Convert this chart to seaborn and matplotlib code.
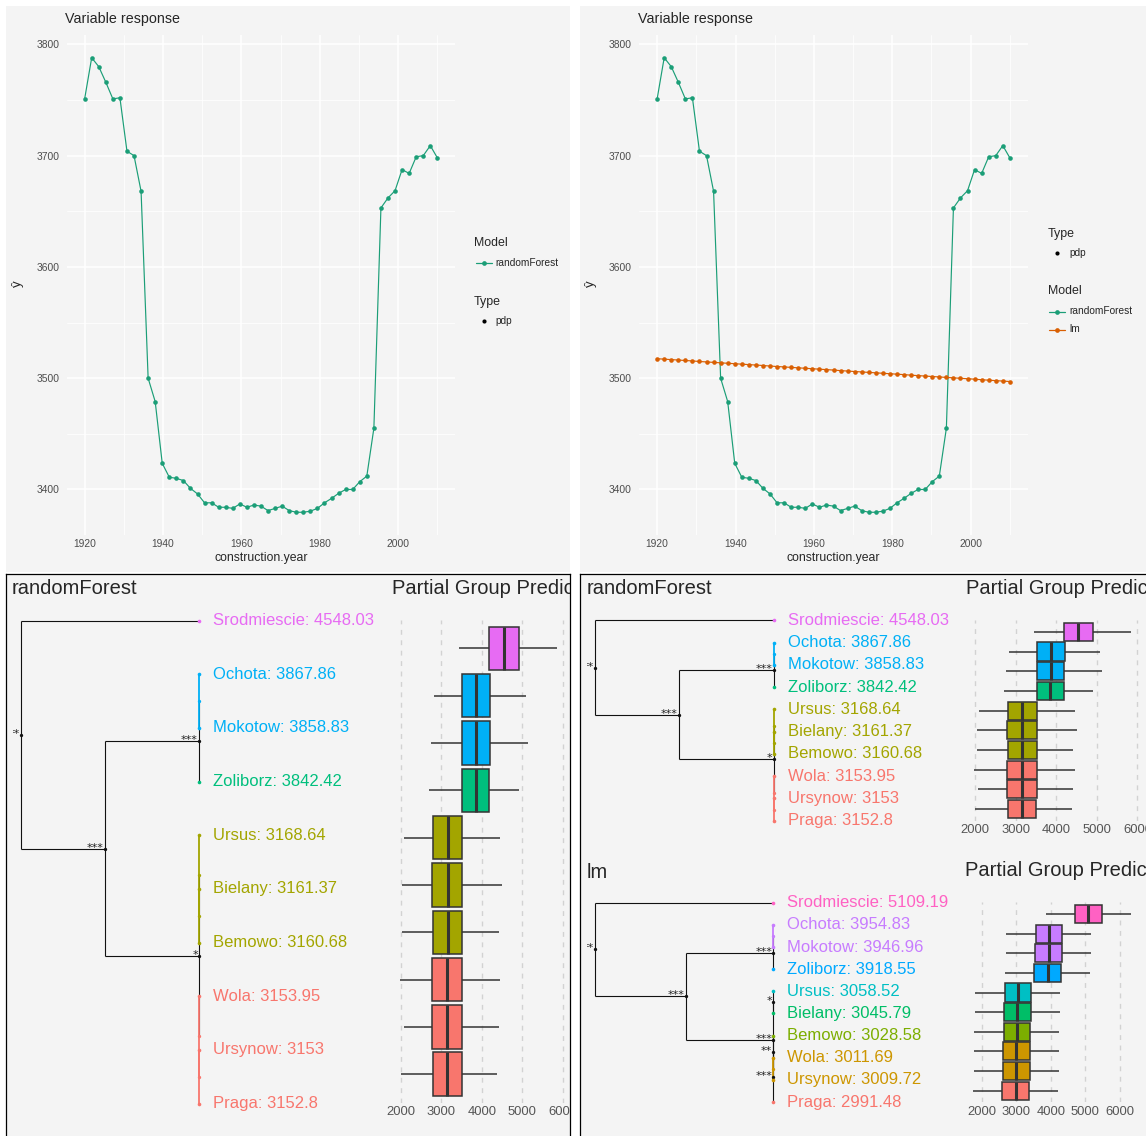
import numpy as np
import pandas as pd
import matplotlib
matplotlib.use("Agg")
import matplotlib.pyplot as plt
import matplotlib.transforms as mtransforms
from matplotlib.lines import Line2D
import seaborn as sns

# ---------------- data ----------------
years = [1920.0, 1921.8, 1923.6, 1925.4, 1927.2, 1929.0, 1930.8, 1932.6, 1934.4, 1936.2,
         1938.0, 1939.8, 1941.6, 1943.4, 1945.2, 1947.0, 1948.8, 1950.6, 1952.4, 1954.2,
         1956.0, 1957.8, 1959.6, 1961.4, 1963.2, 1965.0, 1966.8, 1968.6, 1970.4, 1972.2,
         1974.0, 1975.8, 1977.6, 1979.4, 1981.2, 1983.0, 1984.8, 1986.6, 1988.4, 1990.2,
         1992.0, 1993.8, 1995.6, 1997.4, 1999.2, 2001.0, 2002.8, 2004.6, 2006.4, 2008.2,
         2010.0]
rf_pdp = [3751, 3788, 3780, 3766, 3751, 3752, 3704, 3700, 3668, 3500,
          3479, 3423.5, 3411, 3410, 3408, 3401, 3396, 3388, 3388, 3384,
          3384, 3383, 3387, 3384, 3386, 3385, 3381, 3383, 3385, 3381,
          3379.5, 3379.5, 3380.5, 3383, 3388, 3392, 3396.5, 3400, 3400, 3407,
          3412, 3455, 3653, 3662, 3668.5, 3687.5, 3684, 3699, 3700, 3709,
          3698]
lm_pdp = [3517.5, 3517.1, 3516.7, 3516.3, 3515.9, 3515.5, 3515.0, 3514.6, 3514.2, 3513.8,
          3513.4, 3513.0, 3512.6, 3512.2, 3511.8, 3511.4, 3510.9, 3510.5, 3510.1, 3509.7,
          3509.3, 3508.9, 3508.5, 3508.1, 3507.7, 3507.3, 3506.8, 3506.4, 3506.0, 3505.6,
          3505.2, 3504.8, 3504.4, 3504.0, 3503.6, 3503.2, 3502.7, 3502.3, 3501.9, 3501.5,
          3501.1, 3500.7, 3500.3, 3499.9, 3499.5, 3499.1, 3498.6, 3498.2, 3497.8, 3497.4,
          3497.0]
year_breaks = [1920, 1940, 1960, 1980, 2000]
year_minor = [1930, 1950, 1970, 1990, 2010]
yhat_breaks = [3400, 3500, 3600, 3700, 3800]
yhat_minor = [3450, 3550, 3650, 3750]

districts = ['Srodmiescie', 'Ochota', 'Mokotow', 'Zoliborz', 'Ursus',
             'Bielany', 'Bemowo', 'Wola', 'Ursynow', 'Praga']
rf_means = [4548.03, 3867.86, 3858.83, 3842.42, 3168.64, 3161.37, 3160.68, 3153.95, 3153, 3152.8]
lm_means = [5109.19, 3954.83, 3946.96, 3918.55, 3058.52, 3045.79, 3028.58, 3011.69, 3009.72, 2991.48]
rf_colors = ['#E76BF3', '#00B0F6', '#00B0F6', '#00BF7D', '#A3A500',
             '#A3A500', '#A3A500', '#F8766D', '#F8766D', '#F8766D']
lm_colors = ['#FF61C3', '#C77CFF', '#C77CFF', '#00A9FF', '#00BFC4',
             '#00BE67', '#7CAE00', '#CD9600', '#CD9600', '#F8766D']
# five-number summaries (whisker low, Q1, median, Q3, whisker high)
rf_box = [[3451, 4180, 4541, 4918, 5852],
          [2836, 3516, 3869, 4213, 5090],
          [2762, 3525, 3869, 4197, 5139],
          [2713, 3516, 3852, 4189, 4918],
          [2098, 2803, 3164, 3525, 4451],
          [2049, 2787, 3164, 3525, 4500],
          [2049, 2803, 3164, 3525, 4426],
          [1984, 2787, 3148, 3525, 4451],
          [2074, 2787, 3148, 3525, 4426],
          [2000, 2803, 3148, 3508, 4377]]
lm_box = [[3874, 4696, 5082, 5488, 6319],
          [2705, 3565, 3952, 4338, 5159],
          [2705, 3546, 3952, 4338, 5159],
          [2676, 3507, 3913, 4300, 5130],
          [1807, 2667, 3053, 3440, 4271],
          [1807, 2647, 3034, 3420, 4271],
          [1778, 2638, 3024, 3401, 4242],
          [1778, 2609, 3005, 3401, 4242],
          [1778, 2609, 3005, 3401, 4242],
          [1749, 2589, 2986, 3372, 4203]]
box_breaks = [2000, 3000, 4000, 5000, 6000]
# merge tree: (child a, child b, merge height [0 = root step, 1 = leaf level], significance)
rf_merges = [(1, 2, 1.0, ''), (10, 3, 1.0, '***'), (5, 6, 1.0, ''), (4, 12, 1.0, ''),
             (8, 9, 1.0, ''), (7, 14, 1.0, ''), (13, 15, 1.0, '*'),
             (11, 16, 0.47, '***'), (0, 17, 0.0, '**')]
lm_merges = [(1, 2, 1.0, ''), (10, 3, 1.0, '***'), (4, 5, 1.0, '*'), (7, 8, 1.0, ''),
             (6, 13, 1.0, '**'), (14, 9, 1.0, '***'), (12, 15, 1.0, '***'),
             (11, 16, 0.509, '***'), (0, 17, 0.0, '**')]
model_palette = {'randomForest': '#1B9E77', 'lm': '#D95F02'}

# ---------------- figure setup ----------------
sns.set_style("white")
plt.rcParams['font.family'] = ['Liberation Sans', 'DejaVu Sans']

W, H = 1146, 1136
fig = plt.figure(figsize=(W / 100, H / 100), dpi=100)
fig.patch.set_facecolor('white')
PX = mtransforms.Affine2D().scale(1 / W, -1 / H).translate(0, 1) + fig.transFigure
BG = '#F4F4F4'
TICK_COL = '#4D4D4D'


def px_axes(x0, y0, x1, y1):
    return fig.add_axes([x0 / W, 1 - y1 / H, (x1 - x0) / W, (y1 - y0) / H])


def expand(lo, hi, f=0.05):
    r = hi - lo
    return lo - f * r, hi + f * r


def bare(ax):
    ax.set_xticks([])
    ax.set_yticks([])


# ---------------- top panels ----------------
for (x0, x1) in [(6, 570), (580, 1146)]:
    bg = px_axes(x0, 6, x1, 572)
    bg.set_facecolor(BG)
    bare(bg)
    for s in bg.spines.values():
        s.set_visible(False)

df_rf = pd.DataFrame({'year': years, 'yhat': rf_pdp, 'Model': 'randomForest'})
df_lm = pd.DataFrame({'year': years, 'yhat': lm_pdp, 'Model': 'lm'})


def top_panel(x_left, df, order):
    ax = px_axes(x_left, 35, x_left + 388, 535)
    ax.set_facecolor('none')
    sns.lineplot(data=df, x='year', y='yhat', hue='Model', hue_order=order,
                 palette=model_palette, marker='o', markersize=3.3, markeredgewidth=0,
                 linewidth=0.85, errorbar=None, legend=False, ax=ax)
    ax.set_xlim(*expand(df.year.min(), df.year.max()))
    ax.set_ylim(*expand(df.yhat.min(), df.yhat.max()))
    ax.set_xticks(year_breaks)
    ax.set_xticks(year_minor, minor=True)
    ax.set_yticks(yhat_breaks)
    ax.set_yticks(yhat_minor, minor=True)
    ax.grid(which='major', color='white', lw=1.1)
    ax.grid(which='minor', color='white', lw=0.55)
    ax.set_axisbelow(True)
    ax.tick_params(which='both', length=0, labelsize=7.4, labelcolor=TICK_COL)
    ax.tick_params(axis='x', pad=3.2)
    ax.tick_params(axis='y', pad=5.5)
    for s in ax.spines.values():
        s.set_visible(False)
    ax.set_xlabel('')
    ax.set_ylabel('')
    fig.text(x_left - 2, 19, 'Variable response', transform=PX, fontsize=10.3,
             va='center', ha='left')
    fig.text(x_left + 194, 558.5, 'construction.year', transform=PX, fontsize=8.8,
             va='center', ha='center')
    fig.text(x_left - 49, 284, 'ŷ', transform=PX, fontsize=9.5, rotation=90,
             va='center', ha='center')
    return ax


top_panel(67, df_rf, ['randomForest'])
top_panel(639.5, pd.concat([df_rf, df_lm], ignore_index=True), ['randomForest', 'lm'])


def legend_title(x, y, s):
    fig.text(x, y, s, transform=PX, fontsize=8.9, va='center', ha='left')


def legend_entry(xc, y, label, color, line=True):
    if line:
        fig.add_artist(Line2D([xc - 8, xc + 8], [y, y], transform=PX, color=color, lw=0.9))
        fig.add_artist(Line2D([xc], [y], transform=PX, color=color, marker='o', ms=3.4,
                              mew=0, ls='none'))
    else:
        fig.add_artist(Line2D([xc], [y], transform=PX, color=color, marker='o', ms=3.0,
                              mew=0, ls='none'))
    fig.text(xc + 12, y, label, transform=PX, fontsize=7.3, va='center', ha='left')


legend_title(474, 243, 'Model')
legend_entry(483.6, 262.5, 'randomForest', model_palette['randomForest'])
legend_title(474, 301.8, 'Type')
legend_entry(483.6, 320.7, 'pdp', 'black', line=False)

legend_title(1048, 234, 'Type')
legend_entry(1057, 253.3, 'pdp', 'black', line=False)
legend_title(1048, 291, 'Model')
legend_entry(1057, 311.5, 'randomForest', model_palette['randomForest'])
legend_entry(1057, 329.5, 'lm', model_palette['lm'])

# ---------------- bottom panels ----------------
containers = []
for (x0, x1) in [(6, 570), (580, 1152)]:
    c = px_axes(x0, 574, x1, 1142)
    c.set_facecolor(BG)
    bare(c)
    for s in c.spines.values():
        s.set_color('black')
        s.set_linewidth(0.9)
    containers.append(c)


def draw_tree(names, means, colors, merges, root_px, leaf_px, y0_px, dy_px,
              top_px, bottom_px, right_px):
    n = len(names)
    left_px = root_px - 8
    ax = px_axes(left_px, top_px, right_px, bottom_px)
    ax.set_facecolor('none')
    ax.axis('off')
    sx = leaf_px - root_px
    ax.set_xlim((left_px - root_px) / sx, (right_px - root_px) / sx)
    ax.set_ylim((bottom_px - y0_px) / dy_px, (top_px - y0_px) / dy_px)
    ys = {i: float(i) for i in range(n)}
    xs = {i: 1.0 for i in range(n)}
    cols = {i: colors[i] for i in range(n)}
    black_segs, col_segs, dots = [], [], []
    for k, (a, b, h, star) in enumerate(merges):
        node = n + k
        ya, yb = ys[a], ys[b]
        ys[node] = (ya + yb) / 2
        xs[node] = h
        c = cols[a] if cols[a] == cols[b] else None
        cols[node] = c
        segs = [([h, h], [ya, yb]), ([h, xs[a]], [ya, ya]), ([h, xs[b]], [yb, yb])]
        if c is None:
            black_segs += segs
        else:
            col_segs += [(s, c) for s in segs]
        dots.append((h, ys[node], c if c else '#111111'))
        if star:
            ax.annotate(star, (h, ys[node]), xytext=(-1, -4), textcoords='offset pixels',
                        ha='right', va='bottom', fontsize=8.0, color='#222222',
                        family=['DejaVu Sans'], clip_on=True)
    for (sx_, sy_) in black_segs:
        ax.plot(sx_, sy_, color='#111111', lw=0.8, solid_capstyle='butt')
    for (sx_, sy_), c in col_segs:
        ax.plot(sx_, sy_, color=c, lw=1.3, solid_capstyle='butt')
    for (x, y, c) in dots:
        ax.plot([x], [y], marker='o', color=c, ms=2.4, mew=0, ls='none')
    for i in range(n):
        ax.plot([1.0], [i], marker='o', color=colors[i], ms=2.6, mew=0, ls='none')
        ax.annotate(f"{names[i]}: {means[i]:g}", (1.0, i), xytext=(14, 0),
                    textcoords='offset pixels', va='center', ha='left',
                    fontsize=12.0, color=colors[i], annotation_clip=False)
    return ax


def draw_boxes(container, names, stats, colors, px2000, px_per_k, y0_px, dy_px, title_y):
    lo, hi = expand(min(s[0] for s in stats), max(s[-1] for s in stats))
    left = px2000 - (2000 - lo) * px_per_k / 1000
    right = px2000 + (hi - 2000) * px_per_k / 1000
    n = len(names)
    top = y0_px - 0.6 * dy_px
    bottom = y0_px + (n - 1 + 0.6) * dy_px
    ax = px_axes(left, top, right, bottom)
    ax.set_facecolor('none')
    df = pd.DataFrame([(nm, v) for nm, s in zip(names, stats) for v in s],
                      columns=['district', 'prediction'])
    sns.boxplot(data=df, x='prediction', y='district', order=names, hue='district',
                hue_order=names, palette=dict(zip(names, colors)), whis=(0, 100),
                width=0.92, showcaps=False, showfliers=False, linecolor='#333333',
                linewidth=1.1, saturation=1, legend=False, dodge=False,
                medianprops={'linewidth': 2.2}, ax=ax)
    ax.set_xlim(lo, hi)
    ax.set_ylim(n - 1 + 0.6, -0.6)
    ax.set_xlabel('')
    ax.set_ylabel('')
    ax.set_yticks([])
    ax.set_xticks(box_breaks)
    ax.xaxis.grid(True, color='#D2D2D2', lw=1.0, ls=(0, (3.5, 4)))
    ax.set_axisbelow(True)
    ax.tick_params(axis='x', length=0, labelsize=9.4, labelcolor='#555555', pad=2.5)
    for s in ax.spines.values():
        s.set_visible(False)
    for t in ax.get_xticklabels():
        t.set_clip_on(True)
        t.set_clip_path(container.patch)
    container.text(left, title_y, 'Partial Group Prediction', transform=PX, fontsize=14.5,
                   va='center', ha='left', clip_on=True)
    return ax


# bottom-left: randomForest
containers[0].text(12, 589, 'randomForest', transform=PX, fontsize=14.5, va='center',
                   ha='left', clip_on=True)
draw_tree(districts, rf_means, rf_colors, rf_merges, root_px=21, leaf_px=199,
          y0_px=620.5, dy_px=53.67, top_px=600, bottom_px=1125, right_px=392)
draw_boxes(containers[0], districts, rf_box, rf_colors, px2000=400.5, px_per_k=40.6,
           y0_px=648.3, dy_px=47.33, title_y=589)

# bottom-right: randomForest (compact) and lm
containers[1].text(587, 589, 'randomForest', transform=PX, fontsize=14.5, va='center',
                   ha='left', clip_on=True)
draw_tree(districts, rf_means, rf_colors, rf_merges, root_px=595, leaf_px=773.5,
          y0_px=620.3, dy_px=22.27, top_px=605, bottom_px=835, right_px=966)
draw_boxes(containers[1], districts, rf_box, rf_colors, px2000=975, px_per_k=40.6,
           y0_px=631.8, dy_px=19.7, title_y=589)

containers[1].text(587, 872, 'lm', transform=PX, fontsize=14.5, va='center',
                   ha='left', clip_on=True)
draw_tree(districts, lm_means, lm_colors, lm_merges, root_px=595, leaf_px=773.3,
          y0_px=902.7, dy_px=22.15, top_px=888, bottom_px=1118, right_px=965)
draw_boxes(containers[1], districts, lm_box, lm_colors, px2000=981.7, px_per_k=34.5,
           y0_px=914, dy_px=19.63, title_y=871)

fig.savefig('out.png', dpi=100, facecolor='white')
